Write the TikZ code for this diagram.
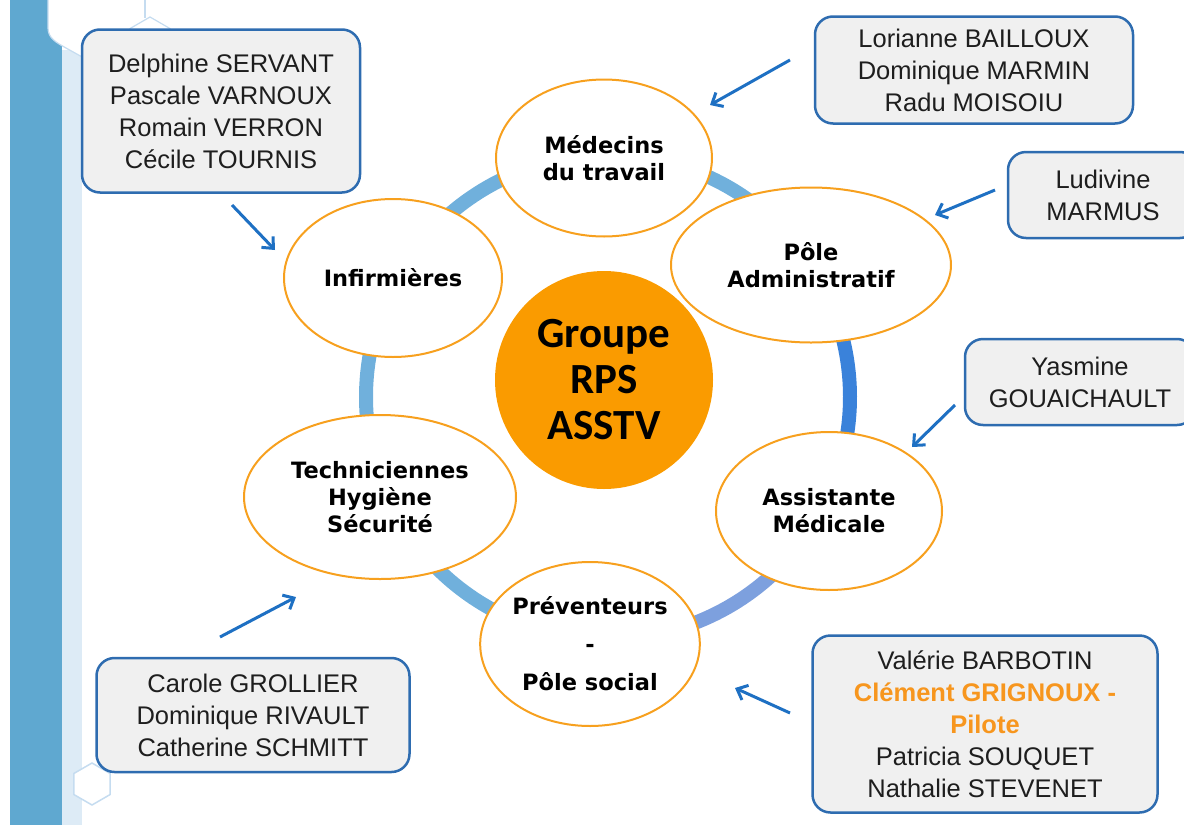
\documentclass[tikz,border=0pt]{standalone}
\usepackage{fontspec}
\setmainfont{Liberation Sans}
\newfontfamily\rolefont{DejaVu Sans}
\newfontfamily\groupfont{Carlito}
\usetikzlibrary{calc,positioning,shapes.geometric}
\usetikzlibrary{arrows.meta}
\definecolor{orangeline}{RGB}{247,160,30}
\definecolor{orangefill}{RGB}{250,155,0}
\definecolor{ringlight}{RGB}{112,176,220}
\definecolor{ringdark}{RGB}{58,130,218}
\definecolor{ringmid}{RGB}{125,160,222}
\definecolor{boxline}{RGB}{46,108,176}
\definecolor{boxfill}{RGB}{240,240,240}
\definecolor{arrowblue}{RGB}{30,112,195}
\definecolor{pilote}{RGB}{247,150,30}
\definecolor{barblue}{RGB}{95,168,208}
\definecolor{barlight}{RGB}{221,235,246}
\definecolor{hexline}{RGB}{197,220,240}
\definecolor{nametext}{RGB}{30,30,30}
\tikzset{>={Straight Barb[length=9pt,width=16pt]}}
\tikzset{role/.style = {ellipse, draw=orangeline, fill=white, line width=2pt,
                  inner sep=0pt, align=center,
                  font=\rolefont\bfseries\fontsize{22.5}{27}\selectfont},
        core/.style = {circle, fill=orangefill, minimum size=218pt, inner sep=0pt,
                  align=center, font=\groupfont\bfseries\fontsize{43}{46}\selectfont},
        namebox/.style = {draw=boxline, fill=boxfill, rounded corners=18pt,
                  line width=2.5pt, inner sep=0pt, align=center, text=nametext,
                  font=\fontsize{25.5}{32}\selectfont},
        link/.style = {->, draw=arrowblue, line width=3pt},
        ringseg/.style = {line width=14pt}
    }

\begin{document}
\begin{tikzpicture}[x=1pt,y=-1pt]
  \useasboundingbox (0,0) rectangle (1184,825);

  % left band
  \fill[barblue] (10,0) rectangle (62,825);
  \fill[barlight] (62,50) rectangle (82,825);
  \fill[white] (48,0) -- (48,28) to[out=270,in=150] (66,48) -- (84,58) -- (150,58) -- (150,0) -- cycle;
  \draw[hexline, line width=1.2pt] (48,0) -- (48,28) to[out=270,in=150] (66,48) -- (84,58);
  \draw[hexline, line width=1.2pt] (145,0) -- (145,18);
  \draw[hexline, line width=1.2pt] (150,40) ++(90:23) -- ++(210:23) -- ++(270:23) -- ++(330:23) -- ++(30:23) -- ++(90:23) -- cycle;
  \filldraw[fill=white, draw=hexline, line width=1.5pt] (92,784) ++(270:21) -- ++(150:21) -- ++(90:21) -- ++(30:21) -- ++(330:21) -- ++(270:21) -- cycle;

  % ring
  \coordinate (ctr) at (608,397);
  \foreach \a/\b/\c in {-151/-91/ringlight, -91/-33/ringlight, -33/27/ringdark,
                        27/94/ringmid, 94/156/ringlight, 156/209/ringlight} {
    \draw[ringseg, \c] ($(ctr)+(\a:242)$) arc[start angle=\a, end angle=\b, radius=242];
  }

  \node[core] (grp) at (604,380) {Groupe\\RPS\\ASSTV};

  \node[role, minimum width=216pt, minimum height=157pt] (med) at (604,158) {Médecins\\du travail};
  \node[role, minimum width=280pt, minimum height=155pt] (adm) at (811,265) {Pôle\\Administratif};
  \node[role, minimum width=226pt, minimum height=158pt] (ast) at (829,511) {Assistante\\Médicale};
  \node[role, minimum width=218pt, minimum height=164pt] (prv) at (590,644) {Préventeurs\\[11pt]-\\[11pt]Pôle social};
  \node[role, minimum width=272pt, minimum height=164pt] (ths) at (380,497) {Techniciennes\\Hygiène\\Sécurité};
  \node[role, minimum width=218pt, minimum height=158pt] (inf) at (393,278) {Infirmières};

  % people
  \node[namebox, minimum width=278pt, minimum height=163pt] (pInf) at (221,111)
    {Delphine SERVANT\\Pascale VARNOUX\\Romain VERRON\\Cécile TOURNIS};
  \node[namebox, minimum width=318pt, minimum height=107pt] (pMed) at (974,70)
    {Lorianne BAILLOUX\\Dominique MARMIN\\Radu MOISOIU};
  \node[namebox, minimum width=190pt, minimum height=86pt] (pAdm) at (1103,195)
    {Ludivine\\MARMUS};
  \node[namebox, minimum width=230pt, minimum height=86pt] (pAst) at (1080,382)
    {Yasmine\\GOUAICHAULT};
  \node[namebox, minimum width=313pt, minimum height=114pt] (pThs) at (253,715)
    {Carole GROLLIER\\Dominique RIVAULT\\Catherine SCHMITT};
  \node[namebox, minimum width=345pt, minimum height=177pt] (pPrv) at (985,724)
    {Valérie BARBOTIN\\\textcolor{pilote}{\bfseries Clément GRIGNOUX -}\\\textcolor{pilote}{\bfseries Pilote}\\Patricia SOUQUET\\Nathalie STEVENET};

  % arrows
  \coordinate (tInf) at (232,205);  \coordinate (hInf) at (275,250);
  \coordinate (tMed) at (790,60);   \coordinate (hMed) at (710,105);
  \coordinate (tAdm) at (995,190);  \coordinate (hAdm) at (935,215);
  \coordinate (tAst) at (955,405);  \coordinate (hAst) at (912,447);
  \coordinate (tThs) at (220,637);  \coordinate (hThs) at (296,597);
  \coordinate (tPrv) at (790,713);  \coordinate (hPrv) at (735,688);
  \foreach \r in {Inf,Med,Adm,Ast,Ths,Prv}
    \draw[link] (t\r) -- (h\r);
\end{tikzpicture}
\end{document}
